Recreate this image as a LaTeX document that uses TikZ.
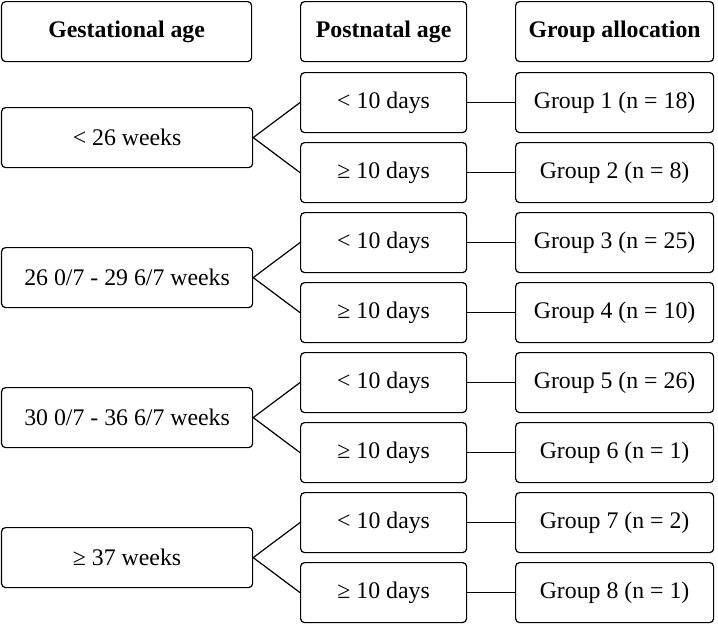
\documentclass[tikz,border=0pt]{standalone}
\usepackage{fontspec}
\setmainfont{Liberation Serif}
\begin{document}
\begin{tikzpicture}[x=1pt,y=-1pt,
  box/.style={draw, line width=1.2pt, rounded corners=4pt, inner sep=0pt, anchor=north west, align=center, font=\fontsize{23.8}{27}\selectfont},
  hdr/.style={box, font=\fontsize{23.8}{27}\selectfont\bfseries},
  conn/.style={line width=1.2pt}]
\useasboundingbox (0,0) rectangle (718,627);
% headers
\node[hdr, minimum width=250pt, minimum height=60pt] (h1) at (1,1) {Gestational age};
\node[hdr, minimum width=166pt, minimum height=60pt] (h2) at (300,1) {Postnatal age};
\node[hdr, minimum width=198pt, minimum height=60pt] (h3) at (515,1) {Group allocation};
% gestational
\node[box, minimum width=251pt, minimum height=60pt] (g1) at (1,107) {< 26 weeks};
\node[box, minimum width=251pt, minimum height=60pt] (g2) at (1,247) {26 0/7 - 29 6/7 weeks};
\node[box, minimum width=251pt, minimum height=60pt] (g3) at (1,387) {30 0/7 - 36 6/7 weeks};
\node[box, minimum width=251pt, minimum height=60pt] (g4) at (1,527) {≥ 37 weeks};
% postnatal and groups
\foreach \i/\t/\g in {1/</Group 1 (n = 18),2/≥/Group 2 (n = 8),3/</Group 3 (n = 25),4/≥/Group 4 (n = 10),5/</Group 5 (n = 26),6/≥/Group 6 (n = 1),7/</Group 7 (n = 2),8/≥/Group 8 (n = 1)}{
  \node[box, minimum width=166pt, minimum height=60pt] (p\i) at (300,{72+70*(\i-1)}) {\t{} 10 days};
  \node[box, minimum width=198pt, minimum height=60pt] (q\i) at (515,{72+70*(\i-1)}) {\g};
  \draw[conn] (p\i.east) -- (q\i.west);
}
\foreach \k/\a/\b in {1/1/2,2/3/4,3/5/6,4/7/8}{
  \draw[conn] (p\a.west) -- (g\k.east) -- (p\b.west);
}
\end{tikzpicture}
\end{document}
